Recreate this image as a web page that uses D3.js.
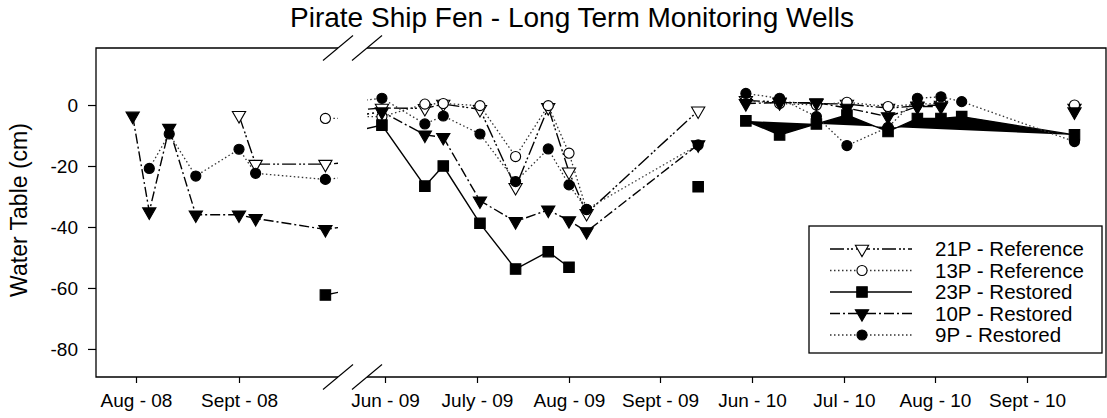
<!DOCTYPE html>
<meta charset="utf-8">
<script src="https://d3js.org/d3.v7.min.js"></script>
<style>
  body { margin: 0; background: #fff; }
  text { font-family: "Liberation Sans", Arial, sans-serif; fill: #000; }
</style>
<div id="chart"></div>
<script>

// sampling dates, one list per axis segment
var dates08 = ["2008-07-31", "2008-08-05", "2008-08-11", "2008-08-19", "2008-09-01", "2008-09-06", "2008-09-27"];
var dates09 = ["2009-05-31", "2009-06-14", "2009-06-20", "2009-07-02", "2009-07-14", "2009-07-25", "2009-08-01", "2009-08-07", "2009-09-14"];
var dates10 = ["2010-05-30", "2010-06-10", "2010-06-22", "2010-07-02", "2010-07-16", "2010-07-26", "2010-08-03", "2010-08-10", "2010-09-17"];

// water table (cm), null = no reading
var p21_08 = [null, null, null, null, -3.4, -19.4, -19.4];
var p13_08 = [null, null, null, null, null, null, -4.4];
var p23_08 = [null, null, null, null, null, null, -62.3];
var p10_08 = [-3.6, -35, -7.6, -36, -36, -37.2, -40.8];
var p9_08  = [null, -20.8, -9.5, -23.3, -14.5, -22.4, -24.4];

var p21_09 = [-1, -1.1, 0.3, -1.4, -27, -0.8, -21.9, -35.5, -1.9];
var p13_09 = [-3.8, 0.3, 0.5, -0.2, -16.9, -0.2, -15.8, -34.3, null];
var p23_09 = [-6.6, -26.6, -20, -38.8, -53.8, -48.1, -53.2, null, -26.8];
var p10_09 = [-2.2, -9.8, -10.6, -31.4, -38.2, -34.4, -37.9, -41.5, -13];
var p9_09  = [2.2, -6.2, -3.6, -9.5, -25.1, -14.4, -26.2, -34.2, -13.1];

var p21_10 = [1.5, 1, 0.5, 0.3, -1, -0.3, 0, null, -1];
var p13_10 = [1.5, 0.5, 0, 0.9, -0.5, 0.3, 0.5, null, 0];
var p23_10 = [-5.2, -9.8, -6.2, -3.3, -8.7, -4.4, -4.4, -3.8, -9.8];
var p10_10 = [0.5, 0.8, 0.8, -1, -3.8, -0.5, -0.5, null, -2.2];
var p9_10  = [3.8, 2.2, -3.8, -13.3, -7.3, 2.2, 2.7, 1.1, -12];

// axis ticks
var ticks08 = ["2008-08-01", "2008-09-01"];
var ticks09 = ["2009-06-01", "2009-07-01", "2009-08-01", "2009-09-01"];
var ticks10 = ["2010-06-01", "2010-07-01", "2010-08-01", "2010-09-01"];
var labels08 = ["Aug - 08", "Sept - 08"];
var labels09 = ["Jun - 09", "July - 09", "Aug - 09", "Sept - 09"];
var labels10 = ["Jun - 10", "Jul - 10", "Aug - 10", "Sept - 10"];
var yTicks = [0, -20, -40, -60, -80];

var parse = d3.timeParse("%Y-%m-%d");

var W = 1107, H = 418;
var L = 96, R = 1106, T = 48, B = 377;
var brk0 = 338, brk1 = 367;   // axis break

var svg = d3.select("#chart").append("svg")
    .attr("width", W)
    .attr("height", H);

var y = d3.scaleLinear().domain([18.7, -89.2]).range([T, B]);
var x08 = d3.scaleTime().domain(ticks08.map(parse)).range([136, 239]);
var x09 = d3.scaleTime().domain(ticks09.map(parse)).range([385, 477, 569, 660]);
var x10 = d3.scaleTime().domain(ticks10.map(parse)).range([752, 844, 935, 1027]);

var series = [
  {name: "21P - Reference", v08: p21_08, v09: p21_09, v10: p21_10, dash: "14,3,2,2,2,3", sym: "tri", fill: "#fff"},
  {name: "13P - Reference", v08: p13_08, v09: p13_09, v10: p13_10, dash: "1.5,2.5", sym: "circle", fill: "#fff", dotted: true},
  {name: "23P - Restored",  v08: p23_08, v09: p23_09, v10: p23_10, dash: null, sym: "square", fill: "#000", fill10: true},
  {name: "10P - Restored",  v08: p10_08, v09: p10_09, v10: p10_10, dash: "10,3,2,3", sym: "tri", fill: "#000"},
  {name: "9P - Restored",   v08: p9_08,  v09: p9_09,  v10: p9_10,  dash: "1.5,2.5", sym: "circle", fill: "#000", dotted: true}
];

function symPath(s) {
  if (s === "tri") return d3.symbol().type(d3.symbolTriangle).size(76)();
  if (s === "square") return d3.symbol().type(d3.symbolSquare).size(110)();
  return d3.symbol().type(d3.symbolCircle).size(80)();
}

// clip regions on either side of the break
var defs = svg.append("defs");
defs.append("clipPath").attr("id", "clipA").append("rect")
    .attr("x", L).attr("y", 0).attr("width", brk0 - L).attr("height", H);
defs.append("clipPath").attr("id", "clipB").append("rect")
    .attr("x", brk1).attr("y", 0).attr("width", R - brk1).attr("height", H);

function pts(dates, vals) {
  return dates.map(function(d, i) { return {date: parse(d), v: vals[i]}; });
}

function lineFor(xs) {
  return d3.line()
      .defined(function(d) { return d.v !== null; })
      .x(function(d) { return xs(d.date); })
      .y(function(d) { return y(d.v); });
}

// lines
series.forEach(function(s) {
  var both = pts(dates08.concat(dates09), s.v08.concat(s.v09));
  [[x08, "clipA"], [x09, "clipB"]].forEach(function(c) {
    svg.append("path")
        .datum(both)
        .attr("clip-path", "url(#" + c[1] + ")")
        .attr("d", lineFor(c[0]))
        .attr("fill", "none")
        .attr("stroke", s.dotted ? "#333" : "#000")
        .attr("stroke-width", s.dotted ? 1.3 : 1.4)
        .attr("stroke-dasharray", s.dash);
  });
  svg.append("path")
      .datum(pts(dates10, s.v10))
      .attr("d", lineFor(x10))
      .attr("fill", s.fill10 ? "#000" : "none")
      .attr("stroke", s.dotted ? "#333" : "#000")
      .attr("stroke-width", s.dotted ? 1.3 : 1.4)
      .attr("stroke-dasharray", s.dash);
});

// markers
[[dates08, "v08", x08], [dates09, "v09", x09], [dates10, "v10", x10]].forEach(function(seg) {
  series.forEach(function(s) {
    svg.append("g").selectAll("path")
      .data(pts(seg[0], s[seg[1]]).filter(function(d) { return d.v !== null; }))
      .enter().append("path")
        .attr("d", symPath(s.sym))
        .attr("transform", function(d) {
          return "translate(" + seg[2](d.date) + "," + y(d.v) + ")" + (s.sym === "tri" ? " rotate(180)" : "");
        })
        .attr("fill", s.fill)
        .attr("stroke", "#000")
        .attr("stroke-width", 1.1);
  });
});

// frame with gap at the break
var frame = svg.append("g").attr("fill", "none").attr("stroke", "#000").attr("stroke-width", 1.3);
frame.append("path").attr("d",
  "M" + brk0 + "," + T + "H" + L + "V" + B + "H" + brk0 +
  "M" + brk1 + "," + T + "H" + R + "V" + B + "H" + brk1);
[T, B].forEach(function(yy) {
  [brk0, brk1].forEach(function(b) {
    frame.append("line")
        .attr("x1", b - 15).attr("y1", yy + 12.5)
        .attr("x2", b + 15).attr("y2", yy - 12.5)
        .attr("stroke-width", 1.1);
  });
});

// axes
var yAxis = svg.append("g")
    .attr("transform", "translate(" + L + ",0)")
    .call(d3.axisLeft(y).tickValues(yTicks).tickSize(8).tickPadding(10)
      .tickFormat(function(d) { return String(d); }));
yAxis.select(".domain").remove();

[[x08, ticks08, labels08], [x09, ticks09, labels09], [x10, ticks10, labels10]].forEach(function(a) {
  var g = svg.append("g")
      .attr("transform", "translate(0," + B + ")")
      .call(d3.axisBottom(a[0])
        .tickValues(a[1].map(parse))
        .tickFormat(function(d, i) { return a[2][i]; })
        .tickSize(6).tickPadding(11));
  g.select(".domain").remove();
});

svg.selectAll(".tick text").style("font-size", "19px").style("font-family", '"Liberation Sans", Arial, sans-serif');
svg.selectAll(".tick line").attr("stroke-width", 1.2);

// titles
svg.append("text")
    .attr("x", 572).attr("y", 27)
    .attr("text-anchor", "middle")
    .style("font-size", "28px")
    .text("Pirate Ship Fen - Long Term Monitoring Wells");

svg.append("text")
    .attr("transform", "translate(27,210) rotate(-90)")
    .attr("text-anchor", "middle")
    .style("font-size", "23px")
    .text("Water Table (cm)");

// legend
var lg = svg.append("g");
lg.append("rect")
    .attr("x", 809).attr("y", 226).attr("width", 293).attr("height", 127)
    .attr("fill", "#fff").attr("stroke", "#000").attr("stroke-width", 1.3);
series.forEach(function(s, i) {
  var ly = 249 + i * 21.5;
  lg.append("line")
      .attr("x1", 830).attr("x2", 912).attr("y1", ly).attr("y2", ly)
      .attr("stroke", s.dotted ? "#333" : "#000")
      .attr("stroke-width", s.dotted ? 1.3 : 1.4)
      .attr("stroke-dasharray", s.dash);
  lg.append("path")
      .attr("d", symPath(s.sym))
      .attr("transform", "translate(862," + ly + ")" + (s.sym === "tri" ? " rotate(180)" : ""))
      .attr("fill", s.fill).attr("stroke", "#000").attr("stroke-width", 1.1);
  lg.append("text")
      .attr("x", 935).attr("y", ly)
      .attr("dy", "0.35em")
      .style("font-size", "20.5px")
      .text(s.name);
});
</script>
